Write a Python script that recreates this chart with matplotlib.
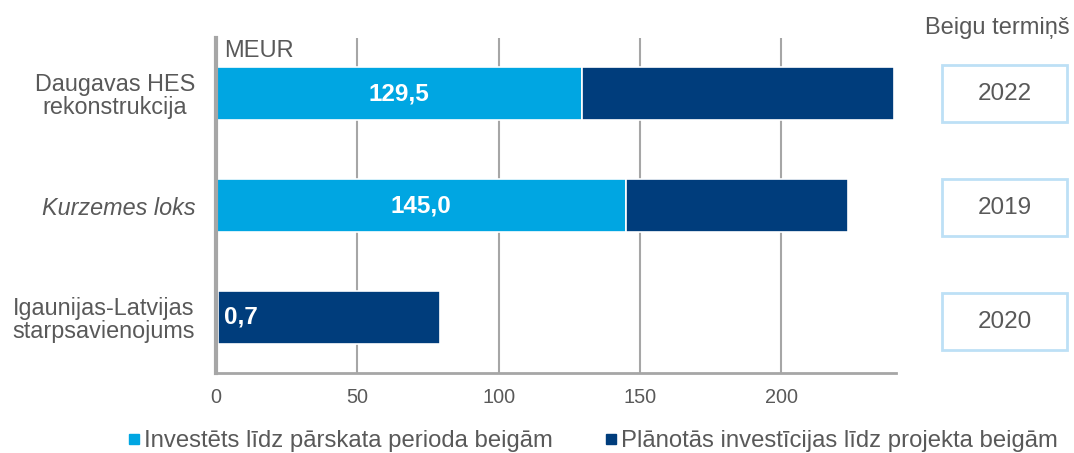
import matplotlib
matplotlib.use("Agg")
import matplotlib.pyplot as plt
from matplotlib.patches import Rectangle
from matplotlib.lines import Line2D
import matplotlib.transforms as mtransforms

plt.rcParams['font.family'] = ['Liberation Sans', 'DejaVu Sans']

# data
projects = ["Daugavas HES\nrekonstrukcija", "Kurzemes loks", "Igaunijas-Latvijas\nstarpsavienojums"]
invested = [129.5, 145.0, 0.7]
planned = [110.5, 78.6, 78.6]
invested_labels = ["129,5", "145,0", "0,7"]
end_years = ["2022", "2019", "2020"]
series_names = ["Investēts līdz pārskata perioda beigām", "Plānotās investīcijas līdz projekta beigām"]

light = "#00A6E2"
dark = "#003D7C"
gray_txt = "#595959"
grid_col = "#A6A6A6"

fig = plt.figure(figsize=(10.74, 4.53), dpi=100)
ax = fig.add_axes([0.2011, 0.1766, 0.6332, 0.7395])

y = list(range(len(projects)))
ax.barh(y, invested, height=0.475, color=light, edgecolor="white", linewidth=1.2, zorder=3)
ax.barh(y, planned, left=invested, height=0.475, color=dark, edgecolor="white", linewidth=1.2, zorder=3)

ax.set_xlim(0, 240.6)
ax.set_ylim(2.5, -0.5)
ax.set_xticks([0, 50, 100, 150, 200])
ax.tick_params(axis="x", length=0, labelsize=14.3, labelcolor=gray_txt, pad=11)
ax.tick_params(axis="y", length=0, pad=15)
ax.set_yticks(y)
ax.set_yticklabels(projects, fontsize=16.8, color=gray_txt, ha="right",
                   multialignment="center", linespacing=1.0)
ax.get_yticklabels()[1].set_style("italic")

ax.grid(axis="x", color=grid_col, linewidth=1.5, zorder=0)
ax.grid(axis="y", visible=False)
for s in ["top", "right"]:
    ax.spines[s].set_visible(False)
ax.spines["left"].set_color(grid_col)
ax.spines["left"].set_linewidth(3)
ax.spines["bottom"].set_color(grid_col)
ax.spines["bottom"].set_linewidth(2)
ax.spines["left"].set_zorder(4)

# value labels
for i, (v, lab) in enumerate(zip(invested, invested_labels)):
    if v > 10:
        ax.text(v / 2, i, lab, ha="center", va="center", color="white",
                fontsize=17.5, fontweight="bold", zorder=5)
    else:
        ax.text(3, i, lab, ha="left", va="center", color="white",
                fontsize=17.5, fontweight="bold", zorder=5)

ax.text(0.012, 0.995, "MEUR", transform=ax.transAxes, ha="left", va="top",
        fontsize=17, color=gray_txt)

# end-year boxes at the right
trans = mtransforms.blended_transform_factory(fig.transFigure, ax.transData)
box_x0, box_w = 942 / 1074, 125 / 1074
for i, yr in enumerate(end_years):
    yc = i + 0.02 * i
    rect = Rectangle((box_x0, yc - 0.255), box_w, 0.51, transform=trans,
                     facecolor="white", edgecolor="#BDE0F6", linewidth=2, clip_on=False)
    fig.patches.append(rect)
    fig.text(box_x0 + box_w / 2, yc, yr, transform=trans, ha="center", va="center",
             fontsize=17.5, color=gray_txt)

fig.text(997 / 1074, 1 - 28 / 453, "Beigu termiņš", ha="center", va="center",
         fontsize=17, color=gray_txt)

handles = [Line2D([], [], marker="s", linestyle="none", markersize=7, color=light),
           Line2D([], [], marker="s", linestyle="none", markersize=7, color=dark)]
fig.legend(handles, series_names, loc="center", bbox_to_anchor=(0.551, 1 - 441 / 453),
           ncol=2, frameon=False, fontsize=17.2, labelcolor=gray_txt,
           handletextpad=0.05, columnspacing=2.1, handlelength=0.7,
           borderpad=0, borderaxespad=0)

fig.savefig("out.png", dpi=100)
